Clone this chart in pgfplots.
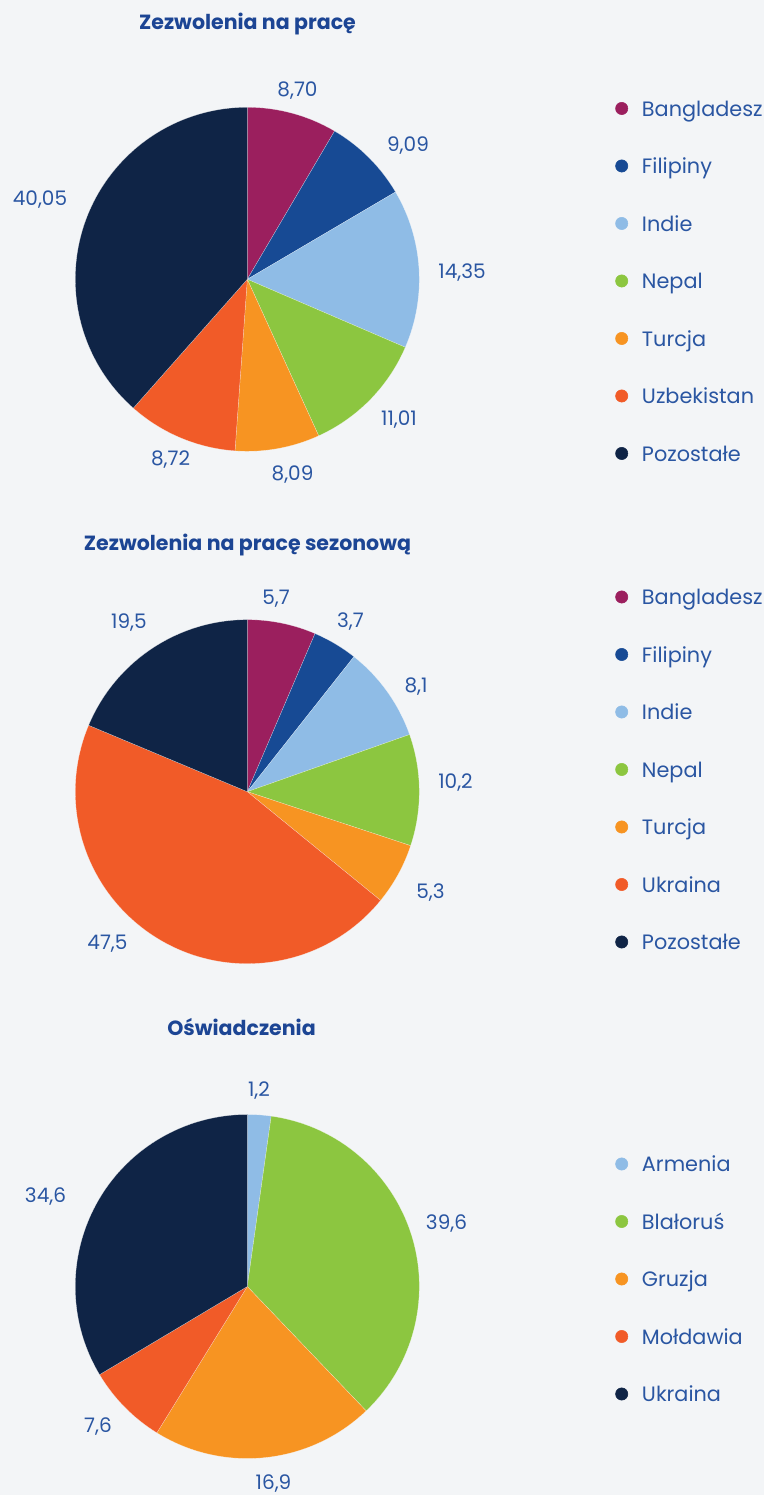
\documentclass[border=0pt]{standalone}
\usepackage{pgfplots}
\pgfplotsset{compat=1.18}
\usepackage{fontspec}
\setmainfont{Poppins}

\definecolor{bg}{HTML}{F3F5F7}
\definecolor{cMag}{HTML}{9B1F5E}
\definecolor{cBlue}{HTML}{174A94}
\definecolor{cLight}{HTML}{8FBCE6}
\definecolor{cGreen}{HTML}{8CC640}
\definecolor{cOrange}{HTML}{F79422}
\definecolor{cRed}{HTML}{F15B28}
\definecolor{cNavy}{HTML}{0F2446}
\definecolor{txt}{HTML}{2A56A2}
\definecolor{ttl}{HTML}{1C4594}

\tikzset{
  lbl/.style={font=\fontsize{15}{18}\selectfont, text=txt, inner sep=0pt, text height=10.5pt, text depth=0pt, anchor=center},
  leg/.style={font=\fontsize{15.6}{18}\selectfont, text=txt, inner sep=0pt, anchor=base west},
  ttlst/.style={font=\fontsize{15.4}{18}\selectfont\bfseries, text=ttl, inner sep=0pt, text height=11pt, text depth=0pt, anchor=center},
}

% wedges clockwise from the top; #1,#2 centre in axis units, #3 list share/colour
\newcommand\piechart[3]{%
  \gdef\cum{0}%
  \foreach \v/\c in {#3}{%
    \pgfmathsetmacro\aone{90-3.6*\cum}%
    \pgfmathsetmacro\atwo{90-3.6*(\cum+\v)}%
    \pgfmathsetmacro\xone{#1+172*cos(\aone)}%
    \pgfmathsetmacro\yone{#2+172*sin(\aone)}%
    \edef\temp{\noexpand\fill[\c,draw=white,draw opacity=0.6,line width=0.2pt] (axis cs:#1,#2) -- (axis cs:\xone,\yone) arc[start angle=\aone, end angle=\atwo, radius=129pt] -- cycle;}%
    \temp
    \pgfmathsetmacro\newcum{\cum+\v}\xdef\cum{\newcum}%
  }}

\newcommand\legitem[3]{% colour, y, text
  \addplot[only marks, mark=*, mark size=4.6pt, color=#1] coordinates {(621.7,-#2)};
  \node[leg] at (axis cs:641.7,-#2-7.7) {#3};}

\begin{document}
\begin{tikzpicture}
\fill[bg] (0,0) rectangle (573pt,1121.25pt);
\begin{axis}[
  at={(0,0)}, anchor=south west,
  x=0.75pt, y=0.75pt,
  xmin=0, xmax=764, ymin=-1495, ymax=0,
  hide axis, clip=false,
]

% --- Zezwolenia na prace
\piechart{247.3}{-279.3}{8.47/cMag, 8.06/cBlue, 14.94/cLight, 11.72/cGreen, 7.95/cOrange, 10.39/cRed, 38.47/cNavy}
\node[ttlst] at (axis cs:247.5,-22) {Zezwolenia na pracę};
\node[lbl] at (axis cs:297.5,-90) {8,70};
\node[lbl] at (axis cs:408,-145) {9,09};
\node[lbl] at (axis cs:462,-272) {14,35};
\node[lbl] at (axis cs:399,-418.5) {11,01};
\node[lbl] at (axis cs:292.5,-474) {8,09};
\node[lbl] at (axis cs:170.5,-459) {8,72};
\node[lbl] at (axis cs:40,-199) {40,05};
\legitem{cMag}{108.5}{Bangladesz}
\legitem{cBlue}{166}{Filipiny}
\legitem{cLight}{223.5}{Indie}
\legitem{cGreen}{281}{Nepal}
\legitem{cOrange}{338.5}{Turcja}
\legitem{cRed}{396}{Uzbekistan}
\legitem{cNavy}{453.5}{Pozostałe}

% --- Zezwolenia na prace sezonowa
\piechart{247.3}{-791.7}{6.44/cMag, 4.20/cBlue, 8.97/cLight, 10.47/cGreen, 5.81/cOrange, 45.42/cRed, 18.69/cNavy}
\node[ttlst] at (axis cs:247.5,-543.5) {Zezwolenia na pracę sezonową};
\node[lbl] at (axis cs:276,-598) {5,7};
\node[lbl] at (axis cs:350.5,-621) {3,7};
\node[lbl] at (axis cs:416,-685.5) {8,1};
\node[lbl] at (axis cs:455.5,-782) {10,2};
\node[lbl] at (axis cs:430.5,-892) {5,3};
\node[lbl] at (axis cs:107.5,-943) {47,5};
\node[lbl] at (axis cs:129,-621.5) {19,5};
\legitem{cMag}{597}{Bangladesz}
\legitem{cBlue}{654.5}{Filipiny}
\legitem{cLight}{712}{Indie}
\legitem{cGreen}{769.5}{Nepal}
\legitem{cOrange}{827}{Turcja}
\legitem{cRed}{884.5}{Ukraina}
\legitem{cNavy}{942}{Pozostałe}

% --- Oswiadczenia
\piechart{247.3}{-1286.5}{2.22/cLight, 35.64/cGreen, 20.95/cOrange, 7.63/cRed, 33.56/cNavy}
\node[ttlst] at (axis cs:241.5,-1028.5) {Oświadczenia};
\node[lbl] at (axis cs:259,-1090) {1,2};
\node[lbl] at (axis cs:446.5,-1223) {39,6};
\node[lbl] at (axis cs:273.5,-1483) {16,9};
\node[lbl] at (axis cs:98,-1425.5) {7,6};
\node[lbl] at (axis cs:45.5,-1196) {34,6};
\legitem{cLight}{1164}{Armenia}
\legitem{cGreen}{1221.5}{Blałoruś}
\legitem{cOrange}{1279}{Gruzja}
\legitem{cRed}{1336.5}{Mołdawia}
\legitem{cNavy}{1394}{Ukraina}

\end{axis}
\end{tikzpicture}
\end{document}
